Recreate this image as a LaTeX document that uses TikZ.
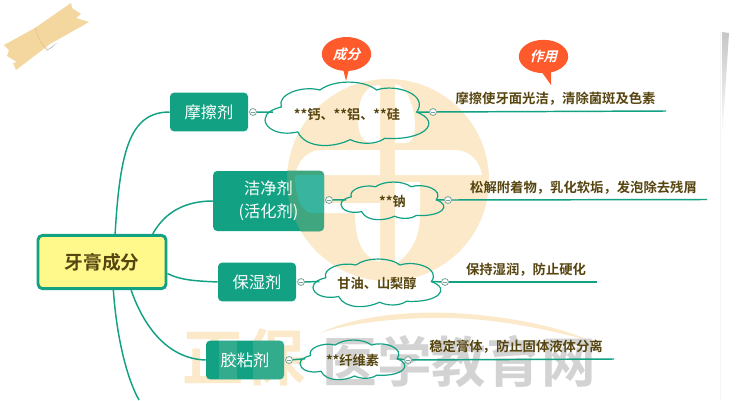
\documentclass[tikz,border=0pt]{standalone}
\usepackage{fontspec}
\usetikzlibrary{shapes.geometric,calc}
\setmainfont{Liberation Sans}
\newfontfamily\cjk[BoldFont={Noto Sans CJK SC Bold}]{Noto Sans CJK SC}
\newfontfamily\cjkslant[FakeSlant=0.25]{Noto Sans CJK SC Bold}
\definecolor{teal1}{HTML}{12A283}
\definecolor{ink}{HTML}{574510}
\definecolor{cream}{HTML}{FBE9C9}
\definecolor{wmgray}{HTML}{D3D3D3}
\definecolor{redc}{HTML}{FF5A2C}
\definecolor{tapec}{HTML}{F3D79F}
\definecolor{tealolive}{HTML}{3FA67F}
\definecolor{tealcyan}{HTML}{38B49F}
\tikzset{
  x=0.75pt,y=-0.75pt,
  root/.style={draw=teal1,line width=2.2pt,fill=yellow!45,rounded corners=3.5pt,minimum width=96pt,minimum height=40pt,inner sep=0pt,text=ink,font=\cjk\bfseries\fontsize{14}{17}\selectfont},
  topic/.style={fill=teal1,rounded corners=3pt,inner sep=0pt,text=white,font=\cjk\fontsize{12.2}{17.5}\selectfont,align=center},
  topictext/.style={inner sep=0pt,text=white,font=\cjk\fontsize{12.2}{17.5}\selectfont,align=center},
  puffbox/.style={inner sep=0pt,outer sep=0pt,text=ink,font=\cjk\bfseries\fontsize{9.9}{12}\selectfont},
  puffline/.style={draw=teal1,line width=0.9pt},
  desc/.style={inner sep=0pt,text=ink,font=\cjk\bfseries\fontsize{10}{12}\selectfont},
  link/.style={draw=teal1,line width=1.1pt},
  tog/.style={circle,draw=teal1!40!gray!80,fill=white,line width=0.6pt,minimum size=5.2pt,inner sep=0pt},
  callout/.style={ellipse,fill=redc,inner sep=0pt,text=white,font=\cjkslant\fontsize{10.2}{12}\selectfont},
  wmcn/.style={inner sep=0pt,font=\cjk\bfseries\fontsize{46}{50}\selectfont},
  wmgr/.style={inner sep=0pt,font=\cjk\bfseries\fontsize{41}{45}\selectfont},
}
\newcommand{\puffcloud}[6]{%
  \begin{scope}
  \node[puffbox,minimum width=#4*0.75pt,minimum height=#5*0.75pt] (#1) at (#2,#3) {#6};
  \begin{scope}[shift={(#1.north west)},xscale=#4,yscale=#5]
    \draw[puffline] (0,.59) .. controls (0,.48) and (.05,.42) .. (.10,.39)
      .. controls (.07,.2) and (.22,.05) .. (.335,.125)
      .. controls (.42,-.04) and (.6,-.04) .. (.68,.125)
      .. controls (.8,.02) and (1.0,.2) .. (.925,.47)
      .. controls (1.08,.62) and (.98,.92) .. (.73,.88)
      .. controls (.68,.98) and (.58,.98) .. (.52,.90)
      .. controls (.42,1.03) and (.25,1.05) .. (.20,.78)
      .. controls (.08,.85) and (0,.72) .. (0,.59) -- cycle;
    \coordinate (#1w) at (.05,.47);
    \coordinate (#1e) at (.925,.47);
  \end{scope}
  \end{scope}}
\begin{document}
\begin{tikzpicture}
\useasboundingbox (0,0) rectangle (746,400);
\fill[white] (0,0) rectangle (746,400);

% tape
\fill[tapec] (4,45) -- (35,28) -- (71,3) -- (72,8) -- (81,14) -- (76,18) -- (89,22) -- (50,44) -- (16,70) -- (13,63) -- (17,62) -- (7,56) -- (9,50) -- cycle;
\fill[black!70,opacity=.55] (46,51) -- (57,43) -- (51,48) -- cycle;
\draw[tapec!80!brown,line width=.6pt] (35,28) .. controls (38,38) and (42,46) .. (48,50);

% right edge
\fill[black!4] (720,32) rectangle (721,400);
\shade[top color=black!22,middle color=black!38,bottom color=white] (722,32) -- (729,33) -- (722,140) -- cycle;

% watermark disc
\fill[cream] (388,180) circle[radius=101];
\fill[white] (380,85) .. controls (362,85) and (358,105) .. (358,120) .. controls (358,132) and (362,143) .. (372,143) -- (380,143) -- cycle;
\fill[white] (395,84) .. controls (408,86) and (415,110) .. (415,125) .. controls (415,135) and (412,143) .. (405,143) -- (395,143) -- cycle;
\fill[white] (295,175) .. controls (298,160) and (308,150) .. (322,150) -- (380,150) -- (380,175) -- cycle;
\fill[white] (395,150) -- (455,150) .. controls (470,150) and (480,162) .. (482,175) -- (395,175) -- cycle;
\fill[white] (298,203) -- (380,203) -- (380,262) .. controls (365,258) and (355,245) .. (355,213) -- (300,213) -- cycle;
\fill[white] (395,182) -- (420,182) -- (420,215) .. controls (420,240) and (408,256) .. (395,264) -- cycle;

% watermark text
\fill[cream] (320,333) .. controls (350,318) and (400,311) .. (450,313) .. controls (500,315) and (555,325) .. (591,341) .. controls (550,330) and (500,319) .. (450,318) .. controls (400,317) and (350,323) .. (320,333) -- cycle;
\node[wmcn,text=cream] (wmb) at (244,357) {正保};
\node[wmgr,text=wmgray] (wmc) at (459,361) {医学教育网};

% root
\node[root] (root) at (102,262) {牙膏成分};

% topics
\node[topic,minimum width=58.5pt,minimum height=29pt] (t1) at (209,112) {摩擦剂};
\node[topic,minimum width=83pt,minimum height=45pt] (t2) at (268.5,201) {};
\begin{scope}
  \clip[rounded corners=3pt] (t2.south west) rectangle (t2.north east);
  \fill[tealolive] (388,180) circle[radius=101];
  \fill[tealcyan] (295,175) -- (330,175) -- (330,213) -- (312,213) .. controls (303,213) and (295,200) .. (295,175) -- cycle;
\end{scope}
\node[topictext] (t2l) at (t2.center) {洁净剂\\(活化剂)};
\node[topic,minimum width=58.5pt,minimum height=29pt] (t3) at (257,282) {保湿剂};
\node[topic,minimum width=58.5pt,minimum height=29pt] (t4) at (245,360) {};
\begin{scope}
  \clip[rounded corners=3pt] (t4.south west) rectangle (t4.north east);
  \fill[cream,opacity=.14] (219,341) rectangle (237,379);
  \fill[cream,opacity=.14] (253,341) rectangle (284,379);
\end{scope}
\node[topictext] (t4l) at (t4.center) {胶粘剂};

% clouds
\puffcloud{c1}{347}{114}{164}{64}{**钙、**铝、**硅}
\puffcloud{c2}{392.5}{201}{103}{38}{**钠}
\puffcloud{c3}{377}{283}{128}{48}{甘油、山梨醇}
\puffcloud{c4}{352.5}{360}{105}{40}{**纤维素}

% toggles
\node[tog] (a1) at (253,112) {};
\node[tog] (b1) at (433,112) {};
\node[tog] (a2) at (329,200) {};
\node[tog] (b2) at (448,200) {};
\node[tog] (a3) at (301,282) {};
\node[tog] (b3) at (445,282) {};
\node[tog] (a4) at (289,360) {};
\node[tog] (b4) at (408,360) {};

% free line ends
\coordinate (e1) at (666,111);
\coordinate (e2) at (707,199.5);
\coordinate (e3) at (597,282);
\coordinate (e4) at (614,359);
\coordinate (e5) at (139,400);

% connectors
\draw[link] (root.65) .. controls (120,150) and (130,112) .. (t1.west);
\draw[link] (root.29) .. controls (165,212) and (185,201) .. (t2.west);
\draw[link] (root.-10) .. controls (180,280) and (195,281) .. (t3.west);
\draw[link] (root.-44) .. controls (145,330) and (170,359) .. (t4.west);
\draw[link] (root.-68) .. controls (116,330) and (125,375) .. (e5);
\draw[link] (a1) -- (c1w);
\draw[link] (c1e) -- (b1);
\draw[link] (a2) -- (c2w);
\draw[link] (c2e) -- (b2);
\draw[link] (a3) -- (c3w);
\draw[link] (c3e) -- (b3);
\draw[link] (a4) -- (c4w);
\draw[link] (c4e) -- (b4);
\draw[link] (b1) -- (e1);
\draw[link] (b2) -- (e2);
\draw[link] (b3) -- (e3);
\draw[link] (b4) -- (e4);
\foreach \n in {a1,b1,a2,b2,a3,b3,a4,b4}{
  \draw[teal1!40!gray!80,line width=.4pt] ($(\n)+(-1.8,0)$) -- ($(\n)+(1.8,0)$);
}

% descriptions
\node[desc] (d1) at (555.5,99) {摩擦使牙面光洁，清除菌斑及色素};
\node[desc] (d2) at (583.5,188) {松解附着物，乳化软垢，发泡除去残屑};
\node[desc] (d3) at (526,270) {保持湿润，防止硬化};
\node[desc] (d4) at (516,347) {稳定膏体，防止固体液体分离};

% callouts
\node[callout,minimum width=37pt,minimum height=25.5pt] (k1) at (346.5,54) {成分};
\coordinate (k1t) at (346,81);
\fill[redc] (343,69) -- (k1t) -- (349,69) -- cycle;
\node[callout,minimum width=37pt,minimum height=25pt] (k2) at (543.5,56.5) {作用};
\coordinate (k2t) at (551,85);
\fill[redc] (541,71) -- (k2t) -- (551,70) -- cycle;
\end{tikzpicture}
\end{document}
